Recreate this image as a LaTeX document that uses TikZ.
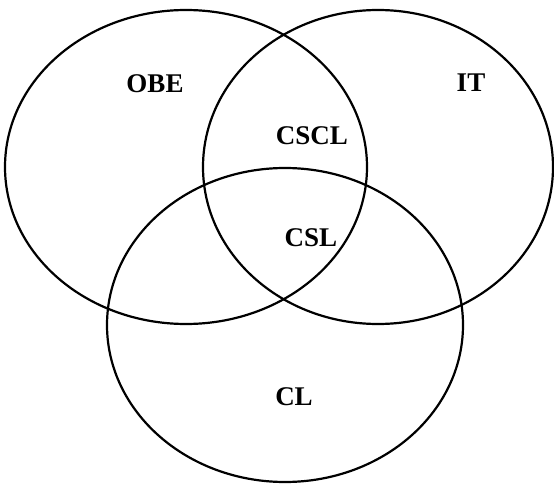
\documentclass[tikz,border=0pt]{standalone}
\usepackage{fontspec}
\setmainfont{Liberation Serif}
\begin{document}
\begin{tikzpicture}[x=1pt,y=-1pt,
  setline/.style={line width=2.2pt,draw=black},
  setlabel/.style={font=\fontsize{27}{32}\selectfont\bfseries,inner sep=0pt}]
\useasboundingbox (0,0) rectangle (554,484);
% the three overlapping sets
\draw[setline] (186,167) ellipse [x radius=181, y radius=157];
\draw[setline] (378,167) ellipse [x radius=175, y radius=157];
\draw[setline] (285,325) ellipse [x radius=178, y radius=157];
% region labels
\node[setlabel] (obe)  at (155,84)  {OBE};
\node[setlabel] (it)   at (471,83)  {IT};
\node[setlabel] (cscl) at (312,136) {CSCL};
\node[setlabel] (csl)  at (311,238) {CSL};
\node[setlabel] (cl)   at (294,397) {CL};
\end{tikzpicture}
\end{document}
